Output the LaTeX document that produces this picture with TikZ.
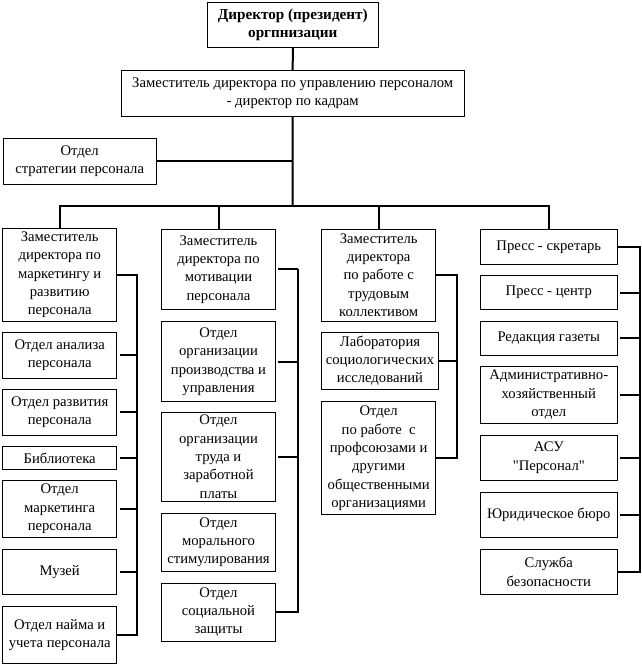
\documentclass[tikz,border=0pt]{standalone}
\usepackage{fontspec}
\setmainfont{Liberation Serif}
\tikzset{
  box/.style={draw, line width=0.75pt, align=center, inner sep=0pt,
    font=\fontsize{11}{13.75}\selectfont},
  wh/.style 2 args={minimum width=#1*0.75pt, minimum height=#2*0.75pt},
  link/.style={line width=1.5pt, line join=miter},
  gap/.style={link, shorten <=2pt}
}
\begin{document}
\begin{tikzpicture}[x=0.75pt, y=-0.75pt]
\useasboundingbox (0,0) rectangle (642,664);
% top of the chart
\node[box, wh={171}{45}, font=\fontsize{11.4}{13.75}\selectfont\bfseries] (dir) at (292.8,24.7) {Директор (президент)\\оргпнизации};
\node[box, wh={343}{46}] (dep) at (292.7,93.3) {Заместитель директора по управлению персоналом\\- директор по кадрам};
\node[box, wh={153}{46}] (strat) at (79.7,161.3) {Отдел\\стратегии персонала};
\coordinate (bus) at (292.5,206);
\coordinate (s1) at (137.3,0);
\coordinate (s2) at (297.7,0);
\coordinate (s3) at (457.3,0);
\coordinate (s4) at (640,0);
% first column
\node[box, wh={114}{92.7}] (a1) at (59.7,274.7) {Заместитель\\директора по\\маркетингу и\\развитию\\персонала};
\node[box, wh={114}{46}] (a2) at (59.7,355.3) {Отдел анализа\\персонала};
\node[box, wh={114}{45.7}] (a3) at (59.7,412.2) {Отдел развития\\персонала};
\node[box, wh={114}{22.6}] (a4) at (59.7,458) {Библиотека};
\node[box, wh={114}{56.6}] (a5) at (59.7,509) {Отдел\\маркетинга\\персонала};
\node[box, wh={114}{45}] (a6) at (59.7,571.8) {Музей};
\node[box, wh={114}{56.6}] (a7) at (59.7,635) {Отдел найма и\\учета персонала};
% second column
\node[box, wh={113.6}{80}] (b1) at (218.5,269.3) {Заместитель\\директора по\\мотивации\\персонала};
\node[box, wh={113.6}{80}] (b2) at (218.5,361.7) {Отдел\\организации\\производства и\\управления};
\node[box, wh={113.6}{88.7}] (b3) at (218.5,456.7) {Отдел\\организации\\труда и\\заработной\\платы};
\node[box, wh={113.6}{57.7}] (b4) at (218.5,542.2) {Отдел\\морального\\стимулирования};
\node[box, wh={113.6}{58}] (b5) at (218.5,612.3) {Отдел\\социальной\\защиты};
% third column
\node[box, wh={114}{91.7}] (c1) at (378.7,275.2) {Заместитель\\директора\\по работе с\\трудовым\\коллективом};
\node[box, wh={116.6}{56.7}] (c2) at (380,360.7) {Лаборатория\\социологических\\исследований};
\node[box, wh={114}{113.3}] (c3) at (378.7,458.3) {Отдел\\по работе\ \ с\\профсоюзами и\\другими\\общественными\\организациями};
% fourth column
\node[box, wh={137}{35}] (d1) at (548.8,246.8) {Пресс - скретарь};
\node[box, wh={137}{33.6}] (d2) at (548.8,292.5) {Пресс - центр};
\node[box, wh={137}{34}] (d3) at (548.8,338.3) {Редакция газеты};
\node[box, wh={137}{57.3}] (d4) at (548.8,394.7) {Административно-\\хозяйственный\\отдел};
\node[box, wh={137}{45}] (d5) at (548.8,457.8) {АСУ\\\textquotedbl Персонал\textquotedbl};
\node[box, wh={137}{45}] (d6) at (548.8,514.8) {Юридическое бюро};
\node[box, wh={137}{45}] (d7) at (548.8,571.8) {Служба\\безопасности};
% connectors
\draw[link] (dir) -- (dep);
\draw[link] (dep) -- (bus);
\draw[link] (strat) -- (strat -| bus);
\draw[link] (a1) -- (a1 |- bus) -- (d1 |- bus) -- (d1);
\foreach \n in {b1,c1}
  \draw[link] (\n) -- (\n |- bus);
\draw[link] (a1) -- (a1 -| s1) -- (a7 -| s1) -- (a7);
\foreach \n in {a2,a3,a4,a5,a6}
  \draw[gap] (\n) -- (\n -| s1);
\draw[link] (b1 -| s2) -- (b5 -| s2) -- (b5);
\foreach \n in {b1,b2,b3}
  \draw[gap] (\n) -- (\n -| s2);
\draw[link] (c1) -- (c1 -| s3) -- (c3 -| s3) -- (c3);
\draw[link] (c2) -- (c2 -| s3);
\draw[link] (d1) -- (d1 -| s4) -- (d7 -| s4) -- (d7);
\foreach \n in {d2,d3,d4,d5,d6}
  \draw[gap] (\n) -- (\n -| s4);
\end{tikzpicture}
\end{document}
